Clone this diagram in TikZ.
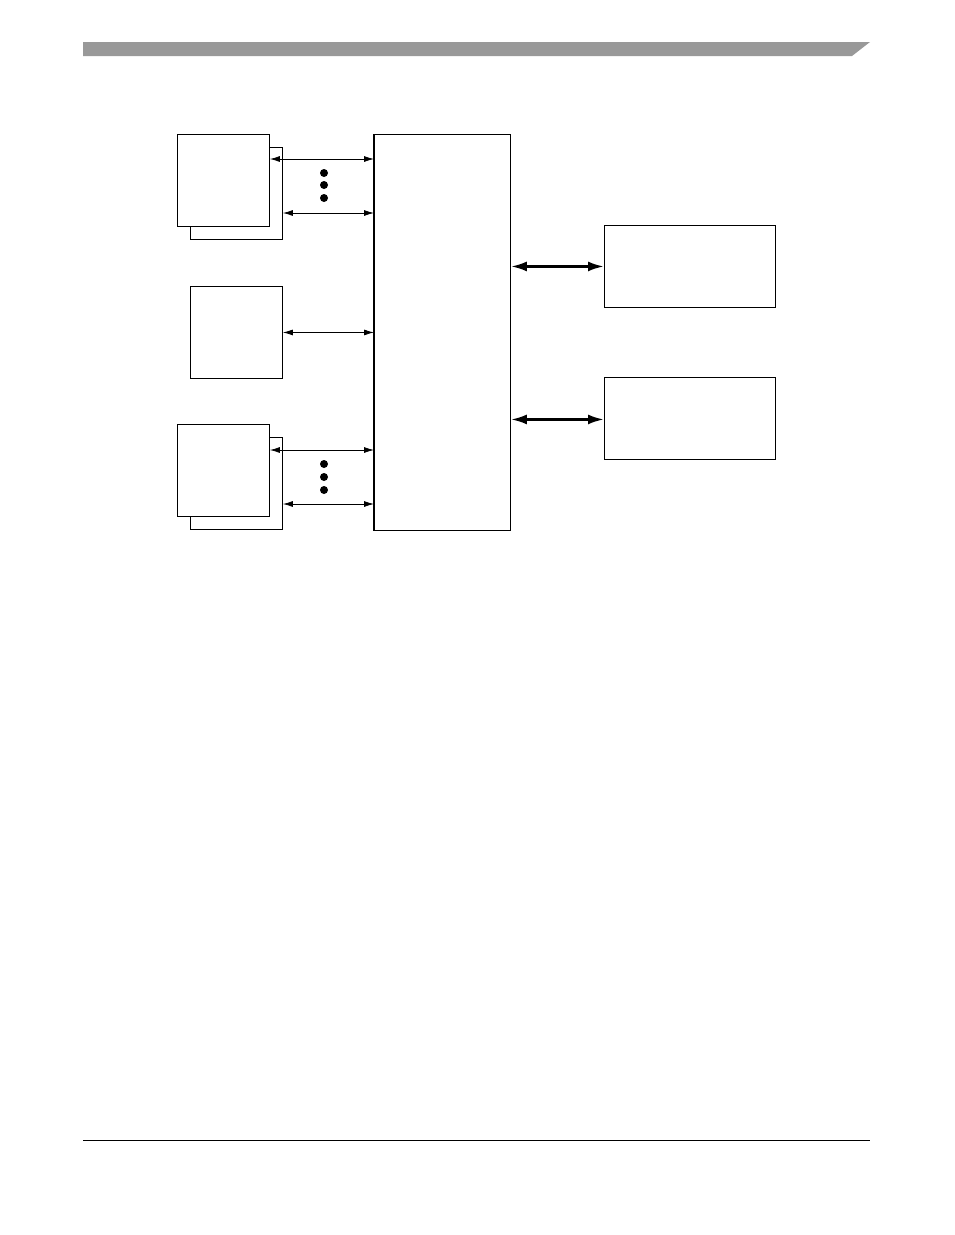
\documentclass[tikz,border=0pt]{standalone}
\usepackage{tikz}
\usetikzlibrary{arrows.meta,positioning,calc}
\definecolor{hdrgray}{rgb}{0.60,0.60,0.60}

\begin{document}
\begin{tikzpicture}[
  x=1pt, y=-1pt,
  blk/.style={draw, fill=white, line width=0.9pt, inner sep=0pt, anchor=north west},
  sqr/.style={blk, minimum width=92pt, minimum height=92pt},
  mem/.style={blk, minimum width=171pt, minimum height=82pt},
  arr/.style={{Latex[length=10pt,width=6pt]}-{Latex[length=10pt,width=6pt]}, line width=0.8pt},
  bigarr/.style={{Latex[length=16pt,width=10pt]}-{Latex[length=16pt,width=10pt]}, line width=2.6pt},
  dot/.style={circle, fill=black, inner sep=0pt, minimum size=8pt}
]
\useasboundingbox (0,0) rectangle (954,1235);

% page header and footer
\fill[hdrgray] (83,42) -- (870,42) -- (852,56) -- (83,56) -- cycle;
\draw[line width=1pt] (83,1140) -- (870,1140);

% stacked masters, top
\node[sqr] (topback) at (190,147) {};
\node[sqr] (topfront) at (177,134) {};
% single master
\node[sqr] (mid) at (190,286) {};
% stacked masters, bottom
\node[sqr] (botback) at (190,437) {};
\node[sqr] (botfront) at (177,424) {};

% crossbar
\node[blk, minimum width=136pt, minimum height=396pt] (bus) at (374,134) {};
\draw[line width=2.2pt] (bus.north west) -- (bus.south west);

% slaves
\node[mem] (memA) at (604,225) {};
\node[mem] (memB) at (604,377) {};

% master ports
\coordinate (p1) at ([yshift=-25pt]topfront.north east);
\coordinate (p2) at ([yshift=-66pt]topback.north east);
\coordinate (p3) at (mid.east);
\coordinate (p4) at ([yshift=-26pt]botfront.north east);
\coordinate (p5) at ([yshift=-67pt]botback.north east);
\draw[arr] (p1) -- (p1 -| bus.west);
\draw[arr] (p2) -- (p2 -| bus.west);
\draw[arr] (p3) -- (p3 -| bus.west);
\draw[arr] (p4) -- (p4 -| bus.west);
\draw[arr] (p5) -- (p5 -| bus.west);

\node[dot] (d1) at (324,173) {};
\node[dot] (d2) at (324,185) {};
\node[dot] (d3) at (324,198) {};
\node[dot] (d4) at (324,464) {};
\node[dot] (d5) at (324,477) {};
\node[dot] (d6) at (324,490) {};

% slave ports
\draw[bigarr] (memA.west -| bus.east) -- (memA.west);
\draw[bigarr] ([yshift=-1pt]memB.west -| bus.east) -- ([yshift=-1pt]memB.west);

\end{tikzpicture}
\end{document}
